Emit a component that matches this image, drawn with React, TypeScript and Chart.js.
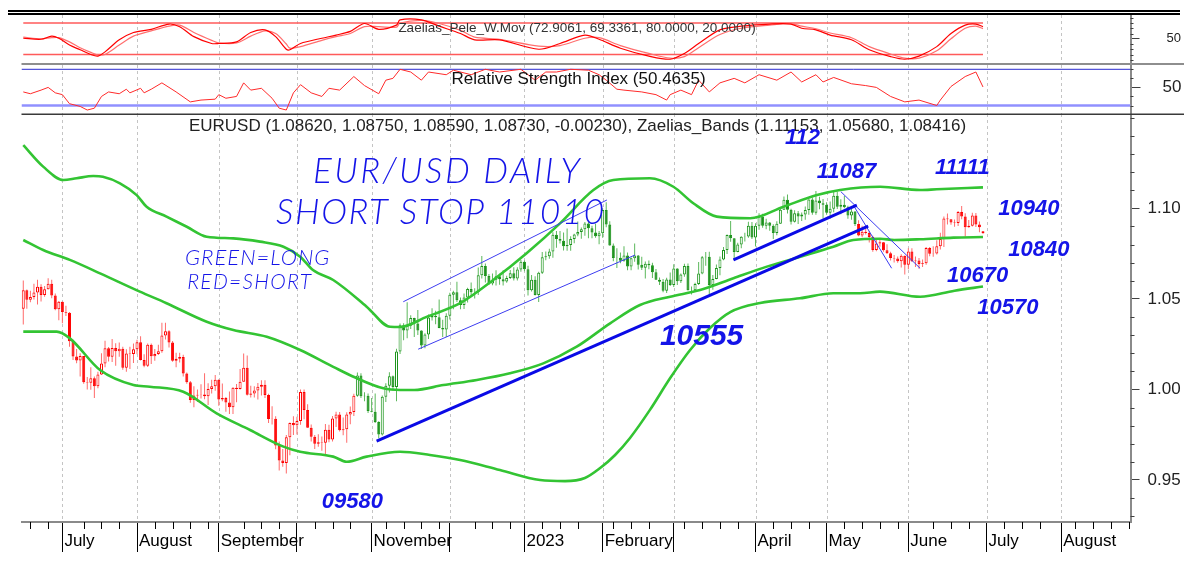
import React, { useEffect, useRef } from "react";
import { Chart, registerables } from "chart.js";

Chart.register(...registerables);

const SANS = '"Liberation Sans", Arial, Helvetica, sans-serif';
const HAND = 'Lato, "DejaVu Sans", sans-serif';

/* ---------------- calendar ---------------- */
const firstSession = "2022-06-16";
const axisLastDay = "2023-08-31";
const closedDays = ["2022-12-26"];
const monthKeys = ["2022-07", "2022-08", "2022-09", "2022-10", "2022-11", "2022-12", "2023-01", "2023-02", "2023-03", "2023-04", "2023-05", "2023-06", "2023-07", "2023-08"];
const monthLabels = ["July", "August", "September", "", "November", "", "2023", "February", "", "April", "May", "June", "July", "August"];

/* ---------------- EURUSD daily OHLC (2022-06-16 .. 2023-06-30) ---------------- */
const open = [
  1.0445, 1.0548, 1.0495, 1.0510, 1.0535, 1.0567, 1.0522, 1.0553, 1.0584, 1.0518, 1.0442,
  1.0484, 1.0427, 1.0424, 1.0266, 1.0182, 1.0160, 1.0185, 1.0040, 1.0037, 1.0062, 1.0018, 1.0083, 1.0143, 1.0227, 1.0180, 1.0229, 1.0211, 1.0225, 1.0120, 1.0198, 1.0195,
  1.0222, 1.0260, 1.0163, 1.0131, 1.0247, 1.0183, 1.0196, 1.0211, 1.0298, 1.0321, 1.0259, 1.0159, 1.0169, 1.0179, 1.0088, 1.0039, 0.9942, 0.9966, 0.9970, 0.9972, 0.9963, 1.0003, 1.0017,
  1.0054, 0.9944, 0.9953, 0.9928, 0.9901, 1.0009, 1.0002, 1.0043, 1.0119, 0.9971, 0.9978, 0.9994, 1.0015, 1.0026, 0.9969, 0.9837, 0.9838, 0.9690, 0.9607, 0.9594, 0.9736, 0.9815,
  0.9802, 0.9826, 0.9986, 0.9886, 0.9789, 0.9739, 0.9700, 0.9708, 0.9706, 0.9777, 0.9723, 0.9839, 0.9862, 0.9774, 0.9780, 0.9862, 0.9876, 0.9965, 1.0077, 0.9962, 0.9965,
  0.9881, 0.9877, 0.9820, 0.9751, 0.9959, 1.0021, 1.0073, 1.0013, 1.0209, 1.0354, 1.0326, 1.0351, 1.0395, 1.0364, 1.0325, 1.0242, 1.0303, 1.0397, 1.0407, 1.0398, 1.0339, 1.0331,
  1.0407, 1.0523, 1.0536, 1.0492, 1.0466, 1.0507, 1.0555, 1.0536, 1.0537, 1.0631, 1.0681, 1.0626, 1.0585, 1.0606, 1.0625, 1.0608, 1.0596, 1.0615, 1.0641, 1.0612, 1.0662,
  1.0705, 1.0663, 1.0547, 1.0605, 1.0522, 1.0644, 1.0730, 1.0735, 1.0762, 1.0854, 1.0830, 1.0821, 1.0790, 1.0797, 1.0831, 1.0855, 1.0869, 1.0885, 1.0916, 1.0890, 1.0867, 1.0846,
  1.0862, 1.0990, 1.0911, 1.0795, 1.0725, 1.0727, 1.0711, 1.0740, 1.0679, 1.0724, 1.0739, 1.0688, 1.0672, 1.0694, 1.0686, 1.0647, 1.0605, 1.0595, 1.0545, 1.0607,
  1.0576, 1.0668, 1.0597, 1.0634, 1.0682, 1.0548, 1.0547, 1.0582, 1.0640, 1.0730, 1.0733, 1.0577, 1.0610, 1.0670, 1.0717, 1.0770, 1.0852, 1.0834, 1.0759, 1.0800, 1.0843, 1.0844, 1.0904,
  1.0839, 1.0903, 1.0955, 1.0904, 1.0921, 1.0903, 1.0863, 1.0914, 1.0992, 1.1047, 1.0992, 1.0926, 1.0973, 1.0955, 1.0966, 1.0990, 1.1049, 1.0975, 1.1043, 1.1028,
  1.1019, 1.0975, 1.0998, 1.1069, 1.1008, 1.1020, 1.1006, 1.0960, 1.0982, 1.0913, 1.0850, 1.0870, 1.0863, 1.0841, 1.0770, 1.0805, 1.0812, 1.0768, 1.0752, 1.0726, 1.0723, 1.0708, 1.0738,
  1.0689, 1.0761, 1.0707, 1.0712, 1.0693, 1.0697, 1.0781, 1.0749, 1.0750, 1.0791, 1.0830, 1.0943, 1.0939, 1.0921, 1.0919, 1.0980, 1.0955, 1.0895, 1.0904, 1.0960, 1.0911, 1.0862,
];
const high = [
  1.0601, 1.0552, 1.0545, 1.0583, 1.0605, 1.0581, 1.0571, 1.0614, 1.0606, 1.0529, 1.0488,
  1.0486, 1.0462, 1.0428, 1.0274, 1.0223, 1.0200, 1.0185, 1.0068, 1.0122, 1.0072, 1.0097, 1.0200, 1.0269, 1.0234, 1.0278, 1.0255, 1.0259, 1.0236, 1.0222, 1.0235, 1.0254,
  1.0274, 1.0293, 1.0194, 1.0254, 1.0254, 1.0223, 1.0247, 1.0368, 1.0368, 1.0327, 1.0268, 1.0203, 1.0202, 1.0192, 1.0093, 1.0046, 1.0017, 0.9999, 1.0028, 1.0090, 1.0034, 1.0054, 1.0079,
  1.0056, 1.0033, 0.9958, 0.9988, 1.0012, 1.0030, 1.0113, 1.0198, 1.0187, 1.0020, 1.0017, 1.0036, 1.0051, 1.0050, 0.9976, 0.9907, 0.9852, 0.9712, 0.9671, 0.9749, 0.9818, 0.9852,
  0.9849, 0.9999, 0.9999, 0.9918, 0.9807, 0.9748, 0.9752, 0.9740, 0.9809, 0.9805, 0.9853, 0.9877, 0.9876, 0.9845, 0.9874, 0.9906, 0.9976, 1.0094, 1.0089, 0.9984, 0.9977,
  0.9953, 0.9977, 0.9825, 0.9966, 1.0034, 1.0095, 1.0077, 1.0225, 1.0364, 1.0365, 1.0481, 1.0410, 1.0396, 1.0438, 1.0327, 1.0310, 1.0413, 1.0448, 1.0434, 1.0497, 1.0385, 1.0420,
  1.0534, 1.0545, 1.0595, 1.0508, 1.0530, 1.0561, 1.0590, 1.0558, 1.0673, 1.0736, 1.0695, 1.0637, 1.0640, 1.0658, 1.0638, 1.0658, 1.0628, 1.0660, 1.0674, 1.0674, 1.0714,
  1.0712, 1.0683, 1.0632, 1.0625, 1.0650, 1.0759, 1.0761, 1.0776, 1.0868, 1.0874, 1.0874, 1.0867, 1.0888, 1.0845, 1.0860, 1.0927, 1.0894, 1.0925, 1.0929, 1.0904, 1.0914, 1.0874,
  1.1000, 1.1033, 1.0929, 1.0806, 1.0779, 1.0756, 1.0790, 1.0756, 1.0729, 1.0805, 1.0742, 1.0733, 1.0706, 1.0712, 1.0700, 1.0665, 1.0618, 1.0610, 1.0616, 1.0645,
  1.0691, 1.0669, 1.0640, 1.0694, 1.0695, 1.0568, 1.0589, 1.0703, 1.0736, 1.0759, 1.0760, 1.0632, 1.0690, 1.0734, 1.0787, 1.0856, 1.0930, 1.0835, 1.0810, 1.0845, 1.0865, 1.0926, 1.0925,
  1.0918, 1.0973, 1.0970, 1.0942, 1.0925, 1.0912, 1.0928, 1.0998, 1.1065, 1.1076, 1.0997, 1.0989, 1.0985, 1.0977, 1.1010, 1.1050, 1.1060, 1.1095, 1.1064, 1.1051,
  1.1034, 1.1038, 1.1092, 1.1092, 1.1050, 1.1068, 1.1014, 1.1000, 1.0985, 1.0934, 1.0904, 1.0904, 1.0874, 1.0849, 1.0829, 1.0829, 1.0814, 1.0802, 1.0760, 1.0742, 1.0734, 1.0746, 1.0740,
  1.0779, 1.0779, 1.0734, 1.0725, 1.0717, 1.0786, 1.0786, 1.0790, 1.0823, 1.0865, 1.0955, 1.0971, 1.0940, 1.0938, 1.0985, 1.1012, 1.0973, 1.0935, 1.0976, 1.0974, 1.0927, 1.0875,
];
const low = [
  1.0359, 1.0445, 1.0481, 1.0497, 1.0469, 1.0486, 1.0512, 1.0552, 1.0504, 1.0437, 1.0382,
  1.0366, 1.0406, 1.0236, 1.0162, 1.0145, 1.0072, 1.0032, 0.9999, 0.9998, 0.9952, 1.0007, 1.0080, 1.0122, 1.0154, 1.0152, 1.0131, 1.0180, 1.0109, 1.0097, 1.0113, 1.0146,
  1.0194, 1.0160, 1.0123, 1.0124, 1.0141, 1.0159, 1.0190, 1.0203, 1.0275, 1.0232, 1.0153, 1.0122, 1.0149, 1.0072, 1.0032, 0.9926, 0.9901, 0.9931, 0.9950, 0.9946, 0.9914, 0.9977, 0.9993,
  0.9910, 0.9935, 0.9877, 0.9864, 0.9864, 0.9929, 1.0000, 1.0043, 0.9966, 0.9956, 0.9955, 0.9945, 0.9967, 0.9953, 0.9814, 0.9807, 0.9670, 0.9553, 0.9573, 0.9536, 0.9636, 0.9749,
  0.9751, 0.9805, 0.9836, 0.9788, 0.9713, 0.9671, 0.9684, 0.9662, 0.9632, 0.9709, 0.9713, 0.9793, 0.9768, 0.9747, 0.9705, 0.9808, 0.9853, 0.9959, 0.9952, 0.9935, 0.9870,
  0.9874, 0.9815, 0.9730, 0.9746, 0.9931, 0.9983, 0.9994, 0.9935, 1.0196, 1.0271, 1.0283, 1.0333, 1.0290, 1.0300, 1.0223, 1.0227, 1.0278, 1.0381, 1.0360, 1.0338, 1.0289, 1.0290,
  1.0386, 1.0443, 1.0483, 1.0443, 1.0444, 1.0480, 1.0518, 1.0502, 1.0522, 1.0613, 1.0590, 1.0576, 1.0575, 1.0574, 1.0578, 1.0574, 1.0589, 1.0610, 1.0601, 1.0602, 1.0650,
  1.0653, 1.0519, 1.0540, 1.0518, 1.0483, 1.0637, 1.0713, 1.0721, 1.0727, 1.0782, 1.0805, 1.0767, 1.0765, 1.0766, 1.0807, 1.0845, 1.0832, 1.0848, 1.0834, 1.0834, 1.0838, 1.0801,
  1.0838, 1.0896, 1.0793, 1.0708, 1.0670, 1.0697, 1.0705, 1.0658, 1.0658, 1.0705, 1.0662, 1.0660, 1.0613, 1.0663, 1.0615, 1.0604, 1.0577, 1.0536, 1.0533, 1.0571,
  1.0565, 1.0577, 1.0588, 1.0622, 1.0546, 1.0524, 1.0538, 1.0577, 1.0636, 1.0683, 1.0516, 1.0551, 1.0608, 1.0631, 1.0713, 1.0747, 1.0816, 1.0714, 1.0757, 1.0780, 1.0817, 1.0837, 1.0830,
  1.0789, 1.0882, 1.0892, 1.0884, 1.0876, 1.0830, 1.0851, 1.0914, 1.0990, 1.0971, 1.0910, 1.0921, 1.0913, 1.0930, 1.0937, 1.0964, 1.0965, 1.0965, 1.0995, 1.0944,
  1.0965, 1.0942, 1.0978, 1.0996, 1.0967, 1.1000, 1.0942, 1.0937, 1.0902, 1.0845, 1.0840, 1.0855, 1.0811, 1.0760, 1.0763, 1.0788, 1.0760, 1.0747, 1.0712, 1.0701, 1.0700, 1.0673, 1.0635,
  1.0664, 1.0704, 1.0676, 1.0666, 1.0676, 1.0689, 1.0735, 1.0733, 1.0745, 1.0773, 1.0786, 1.0911, 1.0909, 1.0898, 1.0902, 1.0940, 1.0844, 1.0893, 1.0899, 1.0897, 1.0868, 1.0859,
];
const close = [
  1.0548, 1.0495, 1.0510, 1.0535, 1.0567, 1.0522, 1.0553, 1.0584, 1.0518, 1.0442, 1.0484,
  1.0427, 1.0424, 1.0266, 1.0182, 1.0160, 1.0185, 1.0040, 1.0037, 1.0062, 1.0018, 1.0083, 1.0143, 1.0227, 1.0180, 1.0229, 1.0211, 1.0225, 1.0120, 1.0198, 1.0195, 1.0222,
  1.0260, 1.0163, 1.0131, 1.0247, 1.0183, 1.0196, 1.0211, 1.0298, 1.0321, 1.0259, 1.0159, 1.0169, 1.0179, 1.0088, 1.0039, 0.9942, 0.9966, 0.9970, 0.9972, 0.9963, 1.0003, 1.0017, 1.0054,
  0.9944, 0.9953, 0.9928, 0.9901, 1.0009, 1.0002, 1.0043, 1.0119, 0.9971, 0.9978, 0.9994, 1.0015, 1.0026, 0.9969, 0.9837, 0.9838, 0.9690, 0.9607, 0.9594, 0.9736, 0.9815, 0.9802,
  0.9826, 0.9986, 0.9886, 0.9789, 0.9739, 0.9700, 0.9708, 0.9706, 0.9777, 0.9723, 0.9839, 0.9862, 0.9774, 0.9780, 0.9862, 0.9876, 0.9965, 1.0077, 0.9962, 0.9965, 0.9881,
  0.9877, 0.9820, 0.9751, 0.9959, 1.0021, 1.0073, 1.0013, 1.0209, 1.0354, 1.0326, 1.0351, 1.0395, 1.0364, 1.0325, 1.0242, 1.0303, 1.0397, 1.0407, 1.0398, 1.0339, 1.0331, 1.0407,
  1.0523, 1.0536, 1.0492, 1.0466, 1.0507, 1.0555, 1.0536, 1.0537, 1.0631, 1.0681, 1.0626, 1.0585, 1.0606, 1.0625, 1.0608, 1.0596, 1.0615, 1.0641, 1.0612, 1.0662, 1.0705,
  1.0663, 1.0547, 1.0605, 1.0522, 1.0644, 1.0730, 1.0735, 1.0762, 1.0854, 1.0830, 1.0821, 1.0790, 1.0797, 1.0831, 1.0855, 1.0869, 1.0885, 1.0916, 1.0890, 1.0867, 1.0846, 1.0862,
  1.0990, 1.0911, 1.0795, 1.0725, 1.0727, 1.0711, 1.0740, 1.0679, 1.0724, 1.0739, 1.0688, 1.0672, 1.0694, 1.0686, 1.0647, 1.0605, 1.0595, 1.0545, 1.0607, 1.0576,
  1.0668, 1.0597, 1.0634, 1.0682, 1.0548, 1.0547, 1.0582, 1.0640, 1.0730, 1.0733, 1.0577, 1.0610, 1.0670, 1.0717, 1.0770, 1.0852, 1.0834, 1.0759, 1.0800, 1.0843, 1.0844, 1.0904, 1.0839,
  1.0903, 1.0955, 1.0904, 1.0921, 1.0903, 1.0863, 1.0914, 1.0992, 1.1047, 1.0992, 1.0926, 1.0973, 1.0955, 1.0966, 1.0990, 1.1049, 1.0975, 1.1043, 1.1028, 1.1019,
  1.0975, 1.0998, 1.1069, 1.1008, 1.1020, 1.1006, 1.0960, 1.0982, 1.0913, 1.0850, 1.0870, 1.0863, 1.0841, 1.0770, 1.0805, 1.0812, 1.0768, 1.0752, 1.0726, 1.0723, 1.0708, 1.0738, 1.0689,
  1.0761, 1.0707, 1.0712, 1.0693, 1.0697, 1.0781, 1.0749, 1.0750, 1.0791, 1.0830, 1.0943, 1.0939, 1.0921, 1.0919, 1.0980, 1.0955, 1.0895, 1.0904, 1.0960, 1.0911, 1.0896, 1.0873,
];
// Zaelias signal: green (long) between these sessions, red (short) otherwise
const longFrom = "2022-10-26";
const longTo = "2023-05-11";

/* ---------------- Zaelias bands (session index, value) ---------------- */
const upperBandIdx = [0, 5.6, 11.3, 15, 19.7, 22.4, 27.2, 31.9, 34.7, 40.3, 46, 51.6, 59.1, 66.6, 73.2, 77.9, 81.5, 87.2, 96.6, 103.2, 106, 113.6, 122.9, 132.2, 141.6, 151, 160.4, 166, 176.3, 182.9, 188.5, 195.1, 204.5, 213.9, 223.3, 229.8, 241.1, 252.3, 257, 270];
const upperBandVal = [1.1349, 1.1230, 1.1156, 1.1166, 1.1178, 1.1174, 1.1138, 1.1073, 1.1009, 1.0954, 1.0898, 1.0843, 1.0834, 1.0816, 1.0788, 1.0733, 1.0659, 1.0604, 1.0457, 1.0346, 1.0345, 1.0402, 1.0476, 1.0604, 1.0752, 1.0917, 1.1101, 1.1156, 1.1166, 1.1119, 1.1028, 1.0954, 1.0945, 1.1009, 1.1073, 1.1101, 1.1119, 1.1101, 1.1105, 1.11153];
const midBandIdx = [0, 5.6, 13.1, 21.6, 32.8, 40.3, 51.6, 59.1, 68.5, 77.9, 87.2, 92.9, 101.3, 106, 110, 118.2, 127.6, 136.9, 146.3, 155.7, 165.1, 173.5, 182, 190.4, 199.8, 209.2, 218.6, 227.9, 233.5, 241.1, 245, 252.3, 261.7, 270];
const midBandVal = [1.0825, 1.0770, 1.0715, 1.0641, 1.0540, 1.0476, 1.0374, 1.0328, 1.0291, 1.0218, 1.0125, 1.0070, 1.0006, 0.9997, 0.9997, 1.0024, 1.0052, 1.0089, 1.0144, 1.0236, 1.0365, 1.0466, 1.0512, 1.0549, 1.0614, 1.0678, 1.0733, 1.0788, 1.0825, 1.0832, 1.0825, 1.0829, 1.0838, 1.08416];
const lowBandIdx = [0, 9.4, 13.1, 21.6, 31, 35.6, 45, 54.4, 63.8, 73.2, 77.9, 87.2, 91, 96.6, 106, 114.4, 122.9, 134.1, 145.4, 152.4, 158, 162.3, 166.5, 170.7, 176.3, 182, 187.6, 193.2, 198.9, 207.3, 218.5, 227.9, 235.4, 241, 252.3, 262, 270];
const lowBandVal = [1.0319, 1.0319, 1.0282, 1.0107, 1.0024, 1.0015, 0.9987, 0.9868, 0.9776, 0.9684, 0.9656, 0.9629, 0.9601, 0.9629, 0.9656, 0.9638, 0.9610, 0.9555, 0.9500, 0.9494, 0.9511, 0.9566, 0.9638, 0.9732, 0.9887, 1.0063, 1.0218, 1.0339, 1.0427, 1.0477, 1.0503, 1.0531, 1.0531, 1.0540, 1.0512, 1.0545, 1.0568];

/* ---------------- drawn trend lines (session index, price) ---------------- */
const trendLongIdx = [99.4, 237.7];
const trendLongVal = [0.9715, 1.0902];
const trendShortIdx = [199.8, 234.5];
const trendShortVal = [1.0715, 1.1018];
const channelUpIdx = [106.9, 164.2];
const channelUpVal = [1.0484, 1.1046];
const channelLowIdx = [111.1, 172.1];
const channelLowVal = [1.0222, 1.0742];
const fallAIdx = [230, 252.3];
const fallAVal = [1.1092, 1.0669];
const fallBIdx = [233.5, 244.3];
const fallBVal = [1.1018, 1.0669];

/* ---------------- Zaelias_Pele_W.Mov oscillator ---------------- */
const oscIdx = [0, 5, 8, 10, 13, 16, 19, 21, 23, 27, 31, 36, 41, 44, 48, 53, 55, 60, 64, 68, 71, 74, 75, 78, 84, 88, 92, 96, 100, 105, 106, 112, 117, 123, 127, 134, 145, 151, 158, 162, 168, 176, 182, 186, 190, 196, 202, 210, 216, 219, 223, 227, 233, 238, 244, 248, 252, 257, 261, 265, 268, 270];
const oscFast = [51, 49, 55, 51, 38, 29, 20, 17, 25, 48, 62, 68, 78, 73, 54, 41, 41, 44, 62, 67, 54, 30, 29, 41, 51, 57, 64, 79, 68, 76, 86, 86, 74, 60, 48, 48, 30, 41, 57, 49, 32, 17, 11, 22, 41, 67, 74, 78, 78, 70, 67, 57, 48, 29, 16, 11, 17, 35, 60, 76, 78, 72.9061];
const oscSlow = [53, 50, 52, 52, 44, 33, 24, 19, 20, 38, 55, 65, 74, 76, 62, 47, 42, 42, 55, 65, 60, 40, 32, 35, 47, 54, 60, 73, 73, 72, 80, 85, 79, 66, 53, 49, 36, 37, 51, 52, 37, 22, 13, 16, 33, 58, 70, 76, 79, 74, 69, 61, 52, 35, 21, 13, 13, 27, 50, 70, 74, 69.3361];
const oscLevels = [80, 20];
const oscTicks = [10, 20, 30, 40, 50, 60, 70, 80, 90];
const oscLabelTicks = [50];

/* ---------------- RSI ---------------- */
const rsiIdx = [0, 2, 5, 7, 9, 11, 13, 16, 18, 20, 22, 24, 27, 29, 30, 33, 34, 36, 39, 43, 47, 50, 54, 55, 57, 60, 62, 64, 67, 70, 72, 74, 76, 78, 81, 84, 86, 89, 93, 96, 100, 102, 104, 106, 109, 112, 114, 119, 121, 126, 130, 134, 140, 144, 147, 150, 154, 159, 162, 164, 167, 169, 174, 178, 181, 182, 185, 188, 190, 193, 196, 200, 203, 207, 212, 216, 219, 223, 225, 228, 233, 237, 240, 244, 248, 252, 257, 258, 261, 265, 268, 270];
const rsiVal = [45, 43, 47, 50, 44, 42, 32, 29, 25, 27, 40, 45, 43, 48, 44, 49, 44, 48, 55, 45, 34, 36, 37, 42, 38, 40, 55, 47, 49, 38, 27, 25, 44, 53, 44, 40, 49, 47, 62, 52, 43, 58, 60, 70, 67, 58, 67, 64, 69, 64, 70, 67, 70, 58, 67, 67, 70, 69, 64, 58, 48, 47, 45, 42, 36, 42, 47, 42, 58, 45, 55, 60, 55, 64, 58, 67, 56, 64, 56, 61, 54, 52, 50, 40, 34, 36, 30, 36, 51, 62, 67, 50.4635];
const rsiLevels = [70, 30];
const rsiTicks = [30, 40, 50, 60, 70];
const rsiLabelTicks = [50];

/* ---------------- price axis ---------------- */
const priceLabelTicks = [0.95, 1.0, 1.05, 1.1];
const priceMinorTicks = [0.93, 0.94, 0.96, 0.97, 0.98, 0.99, 1.01, 1.02, 1.03, 1.04, 1.06, 1.07, 1.08, 1.09, 1.11, 1.12, 1.13, 1.14, 1.15];

/* ---------------- chart notes ---------------- */
const BLUE = "#1414e8";
const notes = [
  { text: "EUR/USD DAILY", idx: 81.5, price: 1.12, font: `italic 300 35px ${HAND}`, spacing: "2.4px" },
  { text: "SHORT STOP 11010", idx: 71.1, price: 1.0974, font: `italic 300 35px ${HAND}`, spacing: "1.6px" },
  { text: "GREEN=LONG", idx: 45.5, price: 1.0726, font: `italic 300 22px ${HAND}`, spacing: "1px" },
  { text: "RED=SHORT", idx: 46.1, price: 1.0593, font: `italic 300 21px ${HAND}`, spacing: "1.3px" },
  { text: "112", idx: 214.3, price: 1.1388, font: `italic bold 22px ${SANS}`, spacing: "0px" },
  { text: "11087", idx: 223.2, price: 1.12, font: `italic bold 22px ${SANS}`, spacing: "0px" },
  { text: "11111", idx: 256.5, price: 1.1225, font: `italic bold 22px ${SANS}`, spacing: "0px" },
  { text: "10940", idx: 274.3, price: 1.0996, font: `italic bold 22px ${SANS}`, spacing: "0px" },
  { text: "10840", idx: 277.1, price: 1.077, font: `italic bold 22px ${SANS}`, spacing: "0px" },
  { text: "10670", idx: 259.9, price: 1.0626, font: `italic bold 22px ${SANS}`, spacing: "0px" },
  { text: "10570", idx: 268.4, price: 1.045, font: `italic bold 22px ${SANS}`, spacing: "0px" },
  { text: "10555", idx: 179.1, price: 1.029, font: `italic bold 30px ${SANS}`, spacing: "0px" },
  { text: "09580", idx: 84.0, price: 0.9381, font: `italic bold 22px ${SANS}`, spacing: "0px" },
];

/* ---------------- derived ---------------- */
function tradingDays(from: string, to: string, closed: string[]): string[] {
  const out: string[] = [];
  const d = new Date(from + "T12:00:00Z");
  const end = new Date(to + "T12:00:00Z");
  while (d.getTime() <= end.getTime()) {
    const wd = d.getUTCDay();
    const s = d.toISOString().slice(0, 10);
    if (wd !== 0 && wd !== 6 && closed.indexOf(s) < 0) out.push(s);
    d.setUTCDate(d.getUTCDate() + 1);
  }
  return out;
}
const sessions = tradingDays(firstSession, axisLastDay, closedDays);
const monthStartIdx = monthKeys.map((k) => sessions.findIndex((s) => s.startsWith(k)));
const dow = (s: string) => new Date(s + "T12:00:00Z").getUTCDay();
const weekStartIdx = sessions
  .map((_, i) => i)
  .filter((i) => i > 0 && dow(sessions[i]) < dow(sessions[i - 1]))
  .filter((i) => monthStartIdx.every((m) => Math.abs(m - i) > 2));
const greenFrom = sessions.indexOf(longFrom);
const greenTo = sessions.indexOf(longTo);
const last = close.length - 1;

const X_MIN = -0.5;
const X_MAX = 311.5;
const PAD_LEFT = 21.5;
const AXIS_W = 53.5;

const pts = (xs: number[], ys: number[]) => xs.map((x, i) => ({ x, y: ys[i] }));

const f5 = (v: number) => v.toFixed(5);
const f4 = (v: number) => v.toFixed(4);

const mainTitle = `EURUSD (${f5(open[last])}, ${f5(high[last])}, ${f5(low[last])}, ${f5(close[last])}, ${f5(close[last] - close[last - 1])}), Zaelias_Bands (${f5(upperBandVal[upperBandVal.length - 1])}, ${f5(lowBandVal[lowBandVal.length - 1])}, ${f5(midBandVal[midBandVal.length - 1])})`;
const oscTitle = `Zaelias_Pele_W.Mov (${f4(oscFast[oscFast.length - 1])}, ${f4(oscSlow[oscSlow.length - 1])}, ${f4(oscLevels[0])}, ${f4(oscLevels[1])})`;
const rsiTitle = `Relative Strength Index (${f4(rsiVal[rsiVal.length - 1])})`;

/* ---------------- helpers ---------------- */
function drawMonthGrid(chart: any) {
  const { ctx, chartArea, scales } = chart;
  ctx.save();
  ctx.strokeStyle = "#c4c4c4";
  ctx.lineWidth = 1;
  ctx.setLineDash([3, 3]);
  monthStartIdx.forEach((i) => {
    const px = Math.round(scales.x.getPixelForValue(i)) + 0.5;
    ctx.beginPath();
    ctx.moveTo(px, chartArea.top);
    ctx.lineTo(px, chartArea.bottom);
    ctx.stroke();
  });
  ctx.restore();
}
function drawMinorY(chart: any, values: number[], len: number) {
  const { ctx, scales } = chart;
  const ys = scales.y;
  ctx.save();
  ctx.strokeStyle = "#404040";
  ctx.lineWidth = 1;
  values.forEach((v) => {
    const py = Math.round(ys.getPixelForValue(v)) + 0.5;
    ctx.beginPath();
    ctx.moveTo(ys.left, py);
    ctx.lineTo(ys.left + len, py);
    ctx.stroke();
  });
  ctx.restore();
}
const noPadY = (s: any) => {
  s.width = AXIS_W;
  s.paddingTop = 0;
  s.paddingBottom = 0;
  s.paddingLeft = 0;
  s.paddingRight = 0;
};

const baseOptions = (yMin: number, yMax: number, labelTicks: number[], tickLen: number, pad: number, fontSize: number, padTop: number, padBottom: number): any => ({
  responsive: false,
  animation: false,
  events: [],
  layout: { padding: { left: PAD_LEFT, right: 0, top: padTop, bottom: padBottom } },
  plugins: { legend: { display: false }, tooltip: { enabled: false }, title: { display: false } },
  scales: {
    x: { type: "linear", min: X_MIN, max: X_MAX, offset: false, display: false },
    y: {
      type: "linear",
      position: "right",
      min: yMin,
      max: yMax,
      afterBuildTicks: (s: any) => {
        s.ticks = labelTicks.map((v) => ({ value: v }));
      },
      afterFit: noPadY,
      grid: { drawOnChartArea: false, drawTicks: true, tickLength: tickLen, tickColor: "#404040", tickWidth: 1 },
      border: { display: true, color: "#8a8a8a", width: 2 },
      ticks: { padding: pad, color: "#222", font: { family: SANS, size: fontSize }, callback: (v: any) => String(v) },
    },
  },
});

function makeOsc(canvas: HTMLCanvasElement) {
  const opts = baseOptions(1.905, 95.24, oscLabelTicks, 9, 27, 13, 15, 1);
  const decor = {
    id: "oscDecor",
    beforeDatasetsDraw: (chart: any) => drawMonthGrid(chart),
    afterDatasetsDraw: (chart: any) => {
      const { ctx } = chart;
      ctx.save();
      ctx.font = `13.5px ${SANS}`;
      ctx.fillStyle = "#333";
      ctx.textAlign = "center";
      ctx.textBaseline = "middle";
      ctx.fillText(oscTitle, 577, 28.5);
      ctx.restore();
    },
    afterDraw: (chart: any) => {
      const { ctx } = chart;
      drawMinorY(chart, oscTicks.filter((v) => oscLabelTicks.indexOf(v) < 0), 3);
      ctx.save();
      ctx.fillStyle = "#000";
      ctx.fillRect(8, 10, 1172, 2);
      ctx.fillRect(8, 13, 1172, 2);
      ctx.fillStyle = "#8e8e8e";
      ctx.fillRect(PAD_LEFT, 63, 1184 - PAD_LEFT, 2);
      ctx.restore();
    },
  };
  return new Chart(canvas, {
    type: "line",
    data: {
      datasets: [
        { data: pts(oscIdx, oscFast), borderColor: "#ff0000", borderWidth: 1.2, pointRadius: 0, tension: 0.3 },
        { data: pts(oscIdx, oscSlow), borderColor: "#ff6f6f", borderWidth: 1.2, pointRadius: 0, tension: 0.3 },
        { data: pts([0, last], [oscLevels[0], oscLevels[0]]), borderColor: "#ff5a5a", borderWidth: 1.6, pointRadius: 0 },
        { data: pts([0, last], [oscLevels[1], oscLevels[1]]), borderColor: "#ff5a5a", borderWidth: 1.6, pointRadius: 0 },
      ],
    },
    options: opts,
    plugins: [decor],
  } as any);
}

function makeRsi(canvas: HTMLCanvasElement) {
  const opts = baseOptions(20.61, 74.75, rsiLabelTicks, 10, 22, 17, 0, 0);
  const decor = {
    id: "rsiDecor",
    beforeDatasetsDraw: (chart: any) => drawMonthGrid(chart),
    afterDatasetsDraw: (chart: any) => {
      const { ctx } = chart;
      ctx.save();
      ctx.font = `17px ${SANS}`;
      ctx.fillStyle = "#111";
      ctx.textAlign = "center";
      ctx.textBaseline = "middle";
      ctx.fillText(rsiTitle, 578.5, 14);
      ctx.restore();
    },
    afterDraw: (chart: any) => {
      drawMinorY(chart, rsiTicks.filter((v) => rsiLabelTicks.indexOf(v) < 0), 3);
    },
  };
  return new Chart(canvas, {
    type: "line",
    data: {
      datasets: [
        { data: pts(rsiIdx, rsiVal), borderColor: "#ff2a2a", borderWidth: 1, pointRadius: 0, tension: 0 },
        { data: pts([X_MIN, X_MAX], [rsiLevels[0], rsiLevels[0]]), borderColor: "#2a2ad0", borderWidth: 1, pointRadius: 0 },
        { data: pts([X_MIN, X_MAX], [rsiLevels[1], rsiLevels[1]]), borderColor: "#9090ff", borderWidth: 2.5, pointRadius: 0 },
      ],
    },
    options: opts,
    plugins: [decor],
  } as any);
}

function makeMain(canvas: HTMLCanvasElement) {
  const isLong = (i: number) => i >= greenFrom && i <= greenTo;
  const isUp = (i: number) => close[i] >= open[i];
  const bodyData = open.map((o, i) => ({ x: i, y: [o, close[i]] }));
  const wickData = open.map((_, i) => ({ x: i, y: [low[i], high[i]] }));

  const decor = {
    id: "mainDecor",
    beforeDatasetsDraw: (chart: any) => drawMonthGrid(chart),
    afterDatasetsDraw: (chart: any) => {
      const { ctx, scales, chartArea } = chart;
      ctx.save();
      ctx.font = `17px ${SANS}`;
      ctx.fillStyle = "#222";
      ctx.textAlign = "center";
      ctx.textBaseline = "middle";
      ctx.fillText(mainTitle, 577.5, chartArea.top + 12.7);
      ctx.textAlign = "left";
      notes.forEach((n) => {
        ctx.font = n.font;
        ctx.fillStyle = BLUE;
        (ctx as any).letterSpacing = n.spacing;
        ctx.fillText(n.text, scales.x.getPixelForValue(n.idx), scales.y.getPixelForValue(n.price));
      });
      (ctx as any).letterSpacing = "0px";
      ctx.restore();
    },
    afterDraw: (chart: any) => {
      const { ctx, scales, chartArea } = chart;
      drawMinorY(chart, priceMinorTicks, 4);
      ctx.save();
      ctx.fillStyle = "#3a3a3a";
      ctx.fillRect(PAD_LEFT, chartArea.top - 0.5, 1184 - PAD_LEFT, 1.5);
      ctx.strokeStyle = "#000";
      ctx.lineWidth = 1;
      weekStartIdx.forEach((i) => {
        const px = Math.round(scales.x.getPixelForValue(i)) + 0.5;
        if (px > chartArea.right) return;
        ctx.beginPath();
        ctx.moveTo(px, chartArea.bottom);
        ctx.lineTo(px, chartArea.bottom + 7);
        ctx.stroke();
      });
      ctx.restore();
    },
  };

  const bandStyle = { type: "line", borderColor: "#33c433", borderWidth: 2.6, pointRadius: 0, cubicInterpolationMode: "monotone", order: 1 };
  const thick = { type: "line", borderColor: "#0a0ae6", borderWidth: 3, pointRadius: 0, order: 0 };
  const thin = { type: "line", borderColor: "#3c3cf0", borderWidth: 1, pointRadius: 0, order: 0 };

  return new Chart(canvas, {
    type: "bar",
    data: {
      datasets: [
        { ...thick, data: pts(trendLongIdx, trendLongVal) },
        { ...thick, data: pts(trendShortIdx, trendShortVal) },
        { ...thin, data: pts(channelUpIdx, channelUpVal) },
        { ...thin, data: pts(channelLowIdx, channelLowVal) },
        { ...thin, data: pts(fallAIdx, fallAVal) },
        { ...thin, data: pts(fallBIdx, fallBVal) },
        { ...bandStyle, data: pts(upperBandIdx, upperBandVal) },
        { ...bandStyle, data: pts(midBandIdx, midBandVal) },
        { ...bandStyle, data: pts(lowBandIdx, lowBandVal) },
        {
          type: "bar",
          data: bodyData,
          barThickness: 3,
          grouped: false,
          inflateAmount: 0,
          borderSkipped: false,
          borderWidth: 1,
          backgroundColor: (c: any) => (isUp(c.dataIndex) ? "#ffffff" : isLong(c.dataIndex) ? "#128a12" : "#ff0000"),
          borderColor: (c: any) => (isLong(c.dataIndex) ? "#1c941c" : "#ff0000"),
          order: 2,
        },
        {
          type: "bar",
          data: wickData,
          barThickness: 1,
          grouped: false,
          inflateAmount: 0,
          borderWidth: 0,
          backgroundColor: (c: any) => (isLong(c.dataIndex) ? "#5cb85c" : "#ff6a6a"),
          order: 3,
        },
      ],
    },
    options: {
      responsive: false,
      animation: false,
      events: [],
      layout: { padding: { left: PAD_LEFT, right: 0, top: 2, bottom: 0 } },
      plugins: { legend: { display: false }, tooltip: { enabled: false }, title: { display: false } },
      scales: {
        x: {
          type: "linear",
          min: X_MIN,
          max: X_MAX,
          offset: false,
          position: "bottom",
          afterBuildTicks: (s: any) => {
            s.ticks = monthStartIdx.map((v) => ({ value: v }));
          },
          afterFit: (s: any) => {
            s.height = 40;
            s.paddingLeft = 0;
            s.paddingRight = 0;
            s.paddingTop = 0;
            s.paddingBottom = 0;
          },
          grid: { display: true, offset: false, drawOnChartArea: false, drawTicks: true, tickLength: 30, tickColor: "#000", tickWidth: 1 },
          border: { display: true, color: "#8a8a8a", width: 2 },
          ticks: {
            autoSkip: false,
            maxRotation: 0,
            minRotation: 0,
            align: "start",
            labelOffset: 2,
            padding: -20.5,
            color: "#000",
            font: { family: SANS, size: 17 },
            callback: (_v: any, i: number) => monthLabels[i] ?? "",
          },
        },
        y: {
          type: "linear",
          position: "right",
          min: 0.92681,
          max: 1.15206,
          afterBuildTicks: (s: any) => {
            s.ticks = priceLabelTicks.map((v) => ({ value: v }));
          },
          afterFit: noPadY,
          grid: { drawOnChartArea: false, drawTicks: true, tickLength: 9, tickColor: "#404040", tickWidth: 1 },
          border: { display: true, color: "#8a8a8a", width: 2 },
          ticks: { padding: 8, color: "#222", font: { family: SANS, size: 17 }, callback: (v: any) => Number(v).toFixed(2) },
        },
      },
    },
    plugins: [decor],
  } as any);
}

export default function App() {
  const oscRef = useRef<HTMLCanvasElement>(null);
  const rsiRef = useRef<HTMLCanvasElement>(null);
  const mainRef = useRef<HTMLCanvasElement>(null);

  useEffect(() => {
    const charts = [makeOsc(oscRef.current!), makeRsi(rsiRef.current!), makeMain(mainRef.current!)];
    return () => charts.forEach((c) => c.destroy());
  }, []);

  return (
    <div style={{ position: "fixed", left: 0, top: 0, width: 1184, height: 562, background: "#fff", overflow: "hidden" }}>
      <canvas ref={oscRef} width={1184} height={65} style={{ position: "absolute", left: 0, top: 0, width: 1184, height: 65 }} />
      <canvas ref={rsiRef} width={1184} height={49} style={{ position: "absolute", left: 0, top: 65, width: 1184, height: 49 }} />
      <canvas ref={mainRef} width={1184} height={450} style={{ position: "absolute", left: 0, top: 112, width: 1184, height: 450 }} />
    </div>
  );
}
